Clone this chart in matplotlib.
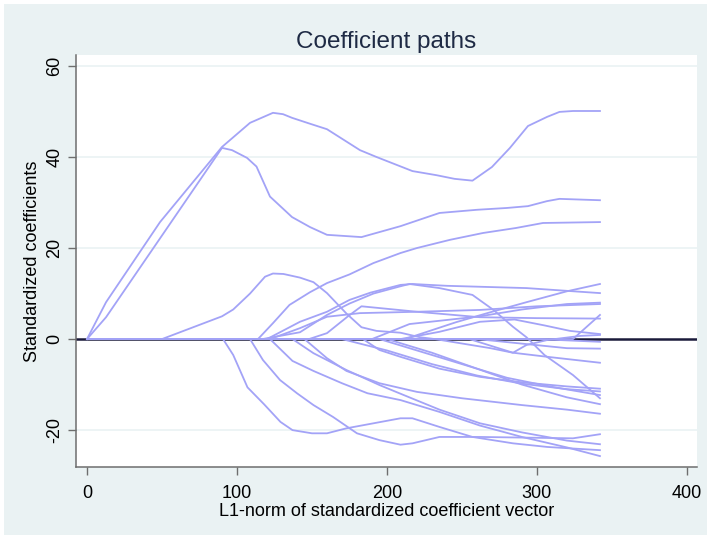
import matplotlib
matplotlib.use("Agg")
import matplotlib.pyplot as plt
from matplotlib.patches import Rectangle

# ---- data: (L1-norm, standardized coefficient) knots for each path ----
coef_01 = [(0,0),(12.7,8.1),(48.7,25.7),(90,42.2),(108.7,47.5),(124,49.7),(130.7,49.4),(136.7,48.6),(148.7,47.3),(160,46.1),(182,41.5),(193,40),(217,36.9),(233,36),(245,35.2),(257,34.8),(270,37.8),(282,42),(294,46.8),(306.7,48.8),(315,49.9),(324,50.1),(342,50.1)]
coef_02 = [(0,0),(12.7,4.8),(90,42),(96.7,41.5),(106.7,39.8),(113,37.9),(122,31.3),(136.7,26.8),(148.7,24.6),(160,22.9),(183,22.4),(209,24.8),(235,27.7),(260,28.4),(280,28.8),(294,29.2),(306.7,30.3),(315,30.8),(342,30.5)]
coef_03 = [(0,0),(114,0),(124,3.5),(135,7.5),(148.7,10.3),(160,12.3),(175,14.2),(191,16.7),(209,18.9),(220,20),(242,21.8),(264,23.3),(286,24.4),(304,25.5),(342,25.7)]
coef_04 = [(0,0),(50,0),(90,5),(97.5,6.5),(108.7,10),(118.7,13.7),(124,14.4),(131,14.3),(142,13.5),(151,12.5),(160,10.1),(173,5.6),(183,2.6),(193,1.8),(209,1.4),(222,0.4),(232,0),(269,-2),(284,-3),(293,-1.3),(307,-0.2),(329,0.7),(342,0.9)]
coef_05 = [(0,0),(120,0),(142,3.8),(160,6),(175,8.6),(189,10.2),(209,11.9),(217,12.1),(240,11.7),(293,11.2),(342,10.1)]
coef_06 = [(0,0),(117,0),(142,1.5),(160,5.3),(175,7.8),(191,10),(209,11.6),(215,12.1),(235,11.2),(257,9.7),(271,6.4),(284,2.7),(293,0.4),(305,-3.5),(324,-7.9),(342,-13)]
coef_07 = [(0,0),(148,0),(160,1.3),(174,5.0),(183,7.2),(220,6),(262,4.8),(300,4.6),(342,4.5)]
coef_08 = [(0,0),(122,0),(142,2.4),(160,4.9),(182,5.7),(220,6),(262,6.4),(300,7.2),(342,7.7)]
coef_09 = [(0,0),(190,0),(215,3.3),(240,4.2),(262,5),(290,6.5),(320,7.7),(342,8.0)]
coef_10 = [(0,0),(212,0),(246,3.7),(269,5.9),(293,8.1),(320,10.5),(342,12.1)]
coef_11 = [(0,0),(209,0),(235,1.6),(262,3.8),(285,4.3),(305,3.0),(322,1.8),(342,1.1)]
coef_12 = [(0,0),(255,0),(284,-3),(307,-3.9),(342,-5.2)]
coef_13 = [(0,0),(324,0),(342,5.3)]
coef_14 = [(0,0),(260,0),(290,-1),(320,-2),(342,-2.1)]
coef_15 = [(0,0),(300,0),(342,-0.6)]
coef_16 = [(0,0),(90.7,0),(97.5,-3.5),(107,-10.6),(118,-14.3),(129,-18.2),(137,-20),(150,-20.7),(160,-20.7),(173,-19.6),(191,-18.5),(209,-17.4),(217,-17.4),(235,-19.3),(257,-21.5),(284,-22.9),(307,-23.7),(342,-24.4)]
coef_17 = [(0,0),(108.7,0),(117.3,-4.6),(128.7,-9),(140,-11.9),(151,-14.5),(164,-17.1),(180,-20.7),(195,-22.2),(209,-23.2),(217,-22.9),(235,-21.5),(262,-21.5),(324,-21.8),(342,-20.9)]
coef_18 = [(0,0),(122,0),(137,-4.8),(151,-7),(170,-9.7),(187,-11.9),(209,-13.4),(235,-16),(262,-19),(290,-21.5),(320,-23.8),(342,-25.7)]
coef_19 = [(0,0),(137,0),(151,-3.1),(173,-6.8),(195,-10.1),(209,-12),(235,-15.5),(262,-18.5),(290,-20.5),(320,-22.3),(342,-23.1)]
coef_20 = [(0,0),(145,0),(160,-4.2),(173,-7),(195,-9.7),(220,-11.6),(250,-13),(290,-14.5),(320,-15.5),(342,-16.4)]
coef_21 = [(0,0),(184,0),(195,-2.4),(209,-3.9),(235,-6.5),(262,-8.3),(290,-9.5),(320,-10.4),(342,-10.9)]
coef_22 = [(0,0),(170,0),(200,-2.5),(230,-5.5),(260,-8),(290,-9.8),(320,-11),(342,-11.5)]
coef_23 = [(0,0),(195,0),(220,-2.5),(250,-5.5),(280,-8.5),(310,-10.5),(342,-12.3)]
coef_24 = [(0,0),(200,0),(230,-3),(260,-6.5),(290,-10),(320,-12.8),(342,-14.3)]

paths = [coef_01, coef_02, coef_03, coef_04, coef_05, coef_06, coef_07, coef_08,
         coef_09, coef_10, coef_11, coef_12, coef_13, coef_14, coef_15, coef_16,
         coef_17, coef_18, coef_19, coef_20, coef_21, coef_22, coef_23, coef_24]

x_ticks = [0, 100, 200, 300, 400]
y_ticks = [-20, 0, 20, 40, 60]

title = "Coefficient paths"
x_label = "L1-norm of standardized coefficient vector"
y_label = "Standardized coefficients"

# ---- styling ----
plt.rcParams['font.family'] = ['Liberation Sans', 'DejaVu Sans']
W, H = 711, 539
fig = plt.figure(figsize=(W/100, H/100), dpi=100, facecolor='white')
fig.patches.append(Rectangle((4/W, 4/H), 1-8/W, 1-8/H, transform=fig.transFigure,
                             facecolor='#EAF2F3', edgecolor='none', zorder=-10))

ax = fig.add_axes([76/W, (H-467)/H, (697-76)/W, (467-55)/H])
ax.set_facecolor('white')

for yt in y_ticks:
    if yt != 0:
        ax.axhline(yt, color='#EAF2F3', lw=1.2, zorder=1)
ax.axhline(0, color='#1a1a3a', lw=1.8, zorder=2)

line_color = '#a3a3f7'
for p in paths:
    xs = [pt[0] for pt in p]
    ys = [pt[1] for pt in p]
    ax.plot(xs, ys, color=line_color, lw=1.3, zorder=3, solid_joinstyle='round')

ax.set_xlim(-7.33, 406.7)
ax.set_ylim(-28.1, 62.4)
ax.set_xticks(x_ticks)
ax.set_yticks(y_ticks)
ax.set_yticklabels([str(v) for v in y_ticks], rotation=90, va='center')

for s in ['top', 'right']:
    ax.spines[s].set_visible(False)
for s in ['left', 'bottom']:
    ax.spines[s].set_color('#6e6e6e')
    ax.spines[s].set_linewidth(1.1)
ax.tick_params(axis='both', direction='out', length=6, width=1.0, color='#6e6e6e',
               labelsize=13, labelcolor='black')
ax.tick_params(axis='x', pad=7)
ax.tick_params(axis='y', pad=3)

ax.set_title(title, fontsize=17.5, color='#1e2a44', pad=5)
ax.set_xlabel(x_label, fontsize=13, labelpad=1)
ax.set_ylabel(y_label, fontsize=13, labelpad=4)

fig.savefig('out.png', dpi=100, facecolor=fig.get_facecolor())
